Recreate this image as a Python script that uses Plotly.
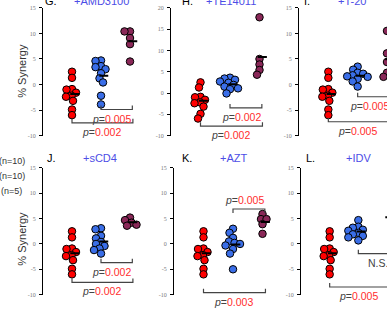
import numpy as np
import plotly.graph_objects as go

W, H = 387, 331

# ---------------- data ----------------
panel_letters = ["G.", "H.", "I.", "J.", "K.", "L."]
panel_drugs = ["+AMD3100", "+TE14011", "+T-20", "+sCD4", "+AZT", "+IDV"]
legend_counts = ["(n=10)", "(n=10)", "(n=5)"]

control_values = [2.5, 1.3, -0.9, -1.0, -1.6, -2.2, -2.4, -3.2, -4.9, -6.0]

drug_values_G = [4.7, 4.6, 3.6, 3.4, 3.0, 2.2, 1.2, 0.4, -2.2, -3.9]
drug_values_H = [3.6, 3.4, 3.1, 2.7, 2.4, 1.9, 1.5, 1.1, 0.9, -0.1]
drug_values_I = [3.5, 2.9, 2.3, 2.1, 1.8, 1.6, 1.5, 1.1, 0.6, -0.4]
drug_values_J = [3.1, 2.9, 1.6, 1.1, 0.4, 0.0, -0.4, -0.9, -1.2, -1.9]
drug_values_K = [3.0, 2.2, 1.2, 0.5, 0.2, 0.0, -0.3, -1.0, -1.9, -5.0]
drug_values_L = [4.7, 3.4, 3.2, 2.8, 2.6, 2.2, 1.9, 1.6, 1.3, 0.7]

combo_values_G = [10.4, 10.4, 9.1, 7.9, 4.5]
combo_values_H = [17.8, 8.0, 6.7, 5.4, 4.3]
combo_values_I = [10.5, 6.1, 4.4, 2.3, 1.5]
combo_values_J = [5.2, 4.7, 4.2, 3.8, 3.6]
combo_values_K = [5.9, 4.9, 4.9, 3.9, 2.0]
combo_values_L = [10.2, 7.0, 5.2, 2.9, 1.0]

p_drug_vs_combo = ["0.005", "0.002", "0.005", "0.002", "0.005", "N.S."]
p_control_vs_combo = ["0.002", "0.002", "0.005", "0.002", "0.003", "0.005"]

y_axis_max = [15, 20, 15, 15, 15, 15]
y_axis_min = -10
y_ticks_step = 5

drug_values = [drug_values_G, drug_values_H, drug_values_I,
               drug_values_J, drug_values_K, drug_values_L]
combo_values = [combo_values_G, combo_values_H, combo_values_I,
                combo_values_J, combo_values_K, combo_values_L]

# ---------------- layout / style ----------------
group_colors = ["#ff0000", "#3a6ee8", "#8a2858"]
title_color = "#4d4de6"
p_color = "#ff2d2d"
text_color = "#333333"

# (axis x px, category spacing px, top px, bottom px)
panel_geom = [
    (43, 29.0, 5, 135),
    (171, 29.5, 5, 135),
    (299, 29.33, 5, 135),
    (43, 29.0, 168, 297),
    (174, 29.5, 168, 297),
    (301, 28.67, 168, 297),
]
bracket_drug_y = [-4.9, -3.5, -2.4, -3.7, 6.9, -1.9]
bracket_ctrl_y = [-7.5, -7.8, -7.3, -7.6, -9.6, -8.5]
bracket_above = [False, False, False, False, True, False]
letter_x = [-0.72, -0.45, -0.73, -0.72, -0.55, -0.66]
title_x = [1.0, 1.05, 0.8, 0.97, 1.03, 1.0]
title_py = [-2, -2, -2, 158, 158, 158]

MARK = 7.5


def swarm(values, px_per_unit, spacing_px, d=5.3):
    vals = np.asarray(values, dtype=float)
    order = np.argsort(-vals, kind="stable")
    placed = []
    offs = np.zeros(len(vals))
    for i in order:
        y = vals[i] * px_per_unit
        chosen = 0.0
        found = False
        for k in range(0, 60):
            cands = [0.0] if k == 0 else [-k * 0.5, k * 0.5]
            for c in cands:
                if all((c - px) ** 2 + (y - py) ** 2 >= d * d for px, py in placed):
                    chosen = c
                    found = True
                    break
            if found:
                break
        placed.append((chosen, y))
        offs[i] = chosen / spacing_px
    return offs


fig = go.Figure()
layout = dict(
    width=W, height=H, margin=dict(l=0, r=0, t=0, b=0),
    paper_bgcolor="white", plot_bgcolor="white", showlegend=False,
    font=dict(family="Liberation Sans, Arial, sans-serif", color=text_color),
)
annotations = []
shapes = []


def ptext(v):
    if v == "N.S.":
        return "N.S."
    return f"<i>p</i>=<span style='color:{p_color}'>{v}</span>"


for p in range(6):
    ax_px, sp, top, bot = panel_geom[p]
    end_px = min(ax_px + 3.3 * sp, W)
    xr = [-1, (end_px - ax_px) / sp - 1]
    ymax = y_axis_max[p]
    px_per_unit = (bot - top) / (ymax - y_axis_min)
    n = p + 1
    xa = "xaxis" if n == 1 else f"xaxis{n}"
    ya = "yaxis" if n == 1 else f"yaxis{n}"
    xref = "x" if n == 1 else f"x{n}"
    yref = "y" if n == 1 else f"y{n}"
    tv = list(range(y_axis_min, ymax + 1, y_ticks_step))
    layout[xa] = dict(domain=[ax_px / W, end_px / W], range=xr, visible=False,
                      anchor=yref, fixedrange=True)
    layout[ya] = dict(domain=[1 - bot / H, 1 - top / H],
                      range=[y_axis_min, ymax], anchor=xref,
                      tickmode="array", tickvals=tv,
                      ticktext=[str(v) for v in tv],
                      showline=True, linecolor="black", linewidth=1,
                      ticks="outside", ticklen=3, tickwidth=1, tickcolor="black",
                      showgrid=False, zeroline=False, fixedrange=True,
                      tickfont=dict(family="Liberation Serif, serif", size=6,
                                    color="#777777"),
                      ticklabelstandoff=2)

    groups = [control_values, drug_values[p], combo_values[p]]
    for g, vals in enumerate(groups):
        offs = swarm(vals, px_per_unit, sp)
        fig.add_trace(go.Scatter(
            x=[g + o for o in offs], y=vals, mode="markers",
            xaxis=xref, yaxis=yref, cliponaxis=False, hoverinfo="skip",
            marker=dict(size=MARK, color=group_colors[g],
                        line=dict(color="black", width=1))))
    for g, vals in enumerate(groups):
        m = float(np.mean(vals))
        fig.add_trace(go.Scatter(
            x=[g - 0.06, g + 0.25], y=[m, m], mode="lines",
            xaxis=xref, yaxis=yref, cliponaxis=False, hoverinfo="skip",
            line=dict(color="black", width=2)))

    # brackets
    h = 4.0 / px_per_unit
    yb = bracket_drug_y[p]
    hh = -h if bracket_above[p] else h
    shapes.append(dict(type="path", xref=xref, yref=yref,
                       path=f"M 1,{yb + hh} L 1,{yb} L 2.08,{yb} L 2.08,{yb + hh}",
                       line=dict(color="#444444", width=1.2)))
    yc = bracket_ctrl_y[p]
    shapes.append(dict(type="path", xref=xref, yref=yref,
                       path=f"M 0,{yc + h} L 0,{yc} L 2.1,{yc} L 2.1,{yc + h}",
                       line=dict(color="#444444", width=1.2)))

    # p-value labels (keep anchor inside axis range so they are drawn)
    want_x = 2.12
    ax_x = min(want_x, xr[1] - 0.15)
    annotations.append(dict(
        xref=xref, yref=yref, x=ax_x, y=yb, text=ptext(p_drug_vs_combo[p]),
        showarrow=False, xanchor="right", yanchor="middle",
        xshift=(want_x - ax_x) * sp,
        yshift=(9 if bracket_above[p] else -9),
        font=dict(size=10.5, color="#444444")))
    annotations.append(dict(
        xref=xref, yref=yref, x=1.0, y=yc, text=ptext(p_control_vs_combo[p]),
        showarrow=False, xanchor="center", yanchor="middle", yshift=-9,
        font=dict(size=10.5, color="#444444")))

    annotations.append(dict(
        xref=xref, yref="paper", x=letter_x[p], y=1 - title_py[p] / H,
        text=panel_letters[p], showarrow=False, xanchor="center",
        yanchor="middle", font=dict(size=11, color="black")))
    annotations.append(dict(
        xref=xref, yref="paper", x=title_x[p], y=1 - title_py[p] / H,
        text=panel_drugs[p], showarrow=False, xanchor="center",
        yanchor="middle", font=dict(size=11, color=title_color)))

for cy in (69, 240):
    annotations.append(dict(
        xref="paper", yref="paper", x=22 / W, y=1 - cy / H, text="% Synergy",
        textangle=-90, showarrow=False, xanchor="center", yanchor="middle",
        font=dict(size=11, color=text_color)))

for txt, cy, rx in zip(legend_counts, (161, 176, 191), (27, 27, 24)):
    annotations.append(dict(
        xref="paper", yref="paper", x=rx / W, y=1 - cy / H, text=txt,
        showarrow=False, xanchor="right", yanchor="middle",
        font=dict(size=9, color=text_color)))

layout["annotations"] = annotations
layout["shapes"] = shapes
fig.update_layout(**layout)
fig.write_html("out.html",
               config={"displayModeBar": False, "staticPlot": True},
               post_script="document.body.style.margin='0';document.body.style.overflow='hidden';")
